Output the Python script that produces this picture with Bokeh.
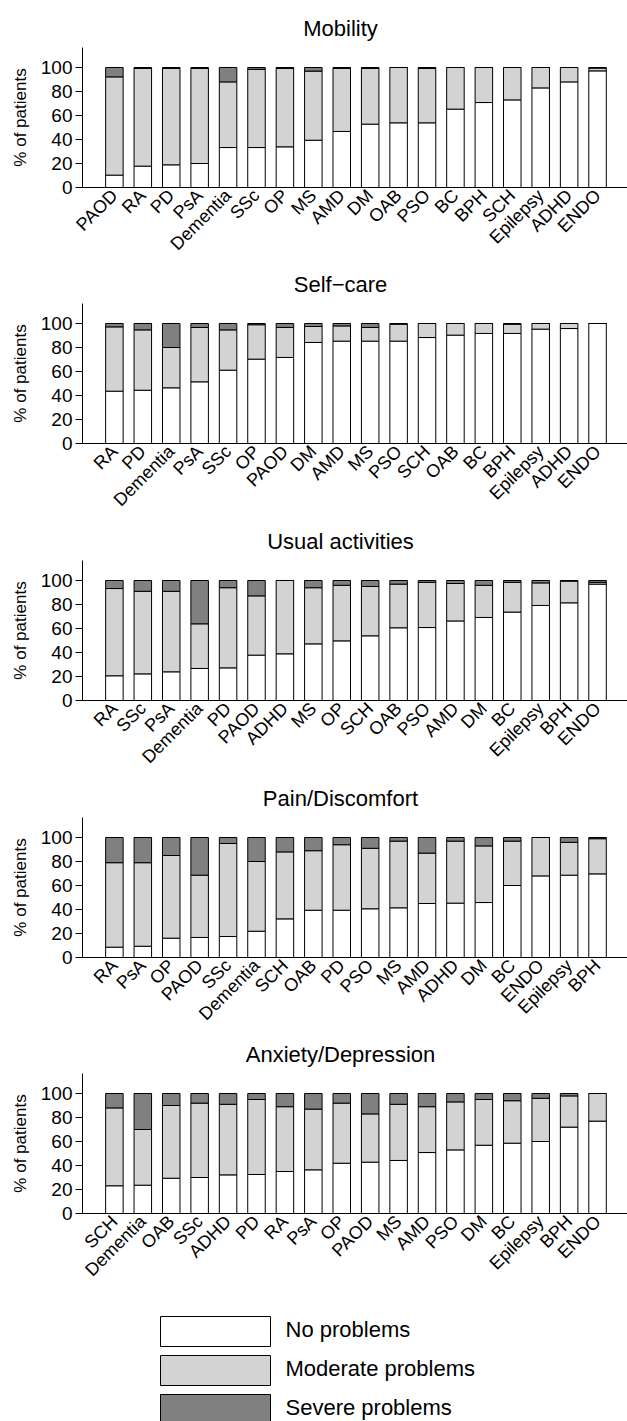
from math import pi
from bokeh.plotting import figure
from bokeh.layouts import column
from bokeh.models import Range1d, ColumnDataSource, FixedTicker
from bokeh.embed import file_html
from bokeh.resources import INLINE
from bokeh.core.properties import value

FONT = "Liberation Sans"
MOD_COLOR = "#d2d3d2"
SEV_COLOR = "#808080"

# ---------------- data (percent of patients) ----------------
mobility_cats = ["PAOD", "RA", "PD", "PsA", "Dementia", "SSc", "OP", "MS", "AMD", "DM",
                 "OAB", "PSO", "BC", "BPH", "SCH", "Epilepsy", "ADHD", "ENDO"]
mobility_none = [10.3, 17.8, 18.9, 20.0, 33.3, 33.3, 33.9, 39.4, 46.7, 52.8,
                 53.9, 53.9, 65.3, 70.8, 73.0, 83.0, 88.0, 97.2]
mobility_moderate = [81.9, 81.4, 80.3, 79.2, 54.7, 65.2, 65.3, 57.6, 52.5, 46.4,
                     46.1, 45.3, 34.7, 29.2, 27.0, 17.0, 12.0, 2.3]
mobility_severe = [7.8, 0.8, 0.8, 0.8, 12.0, 1.5, 0.8, 3.0, 0.8, 0.8,
                   0.0, 0.8, 0.0, 0.0, 0.0, 0.0, 0.0, 0.5]

selfcare_cats = ["RA", "PD", "Dementia", "PsA", "SSc", "OP", "PAOD", "DM", "AMD", "MS",
                 "PSO", "SCH", "OAB", "BC", "BPH", "Epilepsy", "ADHD", "ENDO"]
selfcare_none = [43.6, 44.4, 46.4, 51.4, 61.1, 70.3, 71.7, 84.2, 85.3, 85.3,
                 85.3, 88.3, 90.3, 91.7, 91.7, 95.3, 95.8, 100.0]
selfcare_moderate = [53.6, 50.3, 33.6, 45.3, 33.6, 28.7, 25.0, 13.3, 12.7, 11.4,
                     14.1, 11.7, 9.7, 8.3, 7.7, 4.7, 4.2, 0.0]
selfcare_severe = [2.8, 5.3, 20.0, 3.3, 5.3, 1.0, 3.3, 2.5, 2.0, 3.3,
                   0.6, 0.0, 0.0, 0.0, 0.6, 0.0, 0.0, 0.0]

usual_cats = ["RA", "SSc", "PsA", "Dementia", "PD", "PAOD", "ADHD", "MS", "OP", "SCH",
              "OAB", "PSO", "AMD", "DM", "BC", "Epilepsy", "BPH", "ENDO"]
usual_none = [20.6, 22.2, 23.9, 26.7, 27.2, 37.8, 38.9, 47.2, 49.7, 53.9,
              60.6, 60.8, 66.3, 69.2, 73.7, 79.2, 81.4, 97.0]
usual_moderate = [72.7, 68.8, 67.1, 37.2, 66.8, 49.4, 61.1, 46.8, 46.3, 41.1,
                  36.4, 37.7, 31.2, 26.8, 24.8, 18.8, 18.1, 1.5]
usual_severe = [6.7, 9.0, 9.0, 36.1, 6.0, 12.8, 0.0, 6.0, 4.0, 5.0,
                3.0, 1.5, 2.5, 4.0, 1.5, 2.0, 0.5, 1.5]

pain_cats = ["RA", "PsA", "OP", "PAOD", "SSc", "Dementia", "SCH", "OAB", "PD", "PSO",
             "MS", "AMD", "ADHD", "DM", "BC", "ENDO", "Epilepsy", "BPH"]
pain_none = [8.6, 9.4, 16.1, 16.7, 17.5, 21.9, 32.2, 39.4, 39.4, 40.6,
             41.4, 45.0, 45.3, 45.8, 60.0, 68.0, 68.6, 69.7]
pain_moderate = [70.4, 69.6, 68.9, 51.9, 77.5, 58.1, 55.8, 49.6, 54.6, 50.4,
                 55.6, 42.0, 51.7, 47.2, 37.0, 32.0, 27.4, 29.3]
pain_severe = [21.0, 21.0, 15.0, 31.4, 5.0, 20.0, 12.0, 11.0, 6.0, 9.0,
               3.0, 13.0, 3.0, 7.0, 3.0, 0.0, 4.0, 1.0]

anx_cats = ["SCH", "Dementia", "OAB", "SSc", "ADHD", "PD", "RA", "PsA", "OP", "PAOD",
            "MS", "AMD", "PSO", "DM", "BC", "Epilepsy", "BPH", "ENDO"]
anx_none = [23.1, 23.6, 29.4, 30.0, 32.2, 32.5, 35.0, 36.4, 41.9, 42.8,
            44.2, 50.8, 53.0, 56.9, 58.6, 60.0, 72.0, 77.0]
anx_moderate = [64.9, 46.4, 60.6, 62.0, 58.8, 62.5, 54.0, 50.6, 50.1, 40.2,
                46.8, 38.2, 40.0, 38.1, 35.4, 36.0, 26.0, 23.0]
anx_severe = [12.0, 30.0, 10.0, 8.0, 9.0, 5.0, 11.0, 13.0, 8.0, 17.0,
              9.0, 11.0, 7.0, 5.0, 6.0, 4.0, 2.0, 0.0]

panel_titles = ["Mobility", "Self\u2212care", "Usual activities", "Pain/Discomfort", "Anxiety/Depression"]
y_ticks = [0, 20, 40, 60, 80, 100]
legend_labels = ["No problems", "Moderate problems", "Severe problems"]

panels = [
    (mobility_cats, mobility_none, mobility_moderate, mobility_severe),
    (selfcare_cats, selfcare_none, selfcare_moderate, selfcare_severe),
    (usual_cats, usual_none, usual_moderate, usual_severe),
    (pain_cats, pain_none, pain_moderate, pain_severe),
    (anx_cats, anx_none, anx_moderate, anx_severe),
]

# ---------------- layout (page pixels) ----------------
W = 627
LEFT = 82
FRAME_H = 140
BOTTOM = 80
Y_MAX = 116.67
X_START, X_END = -1.122, 18.054
frame_tops = [47, 303, 560, 817, 1073]
TITLE_X = 340
TITLE_ABOVE = 18.7


def bare_figure(top, height):
    """A figure whose data coordinates equal page pixels (frame aligned with panels)."""
    f = figure(width=W, height=height, output_backend="svg", toolbar_location=None,
               title=None, x_range=Range1d(LEFT, W), y_range=Range1d(top + height, top),
               x_axis_type=None, y_axis_type=None,
               min_border_left=LEFT, min_border_right=0, min_border_top=0, min_border_bottom=0)
    f.grid.grid_line_color = None
    f.outline_line_color = None
    return f


def make_title(text, top, height, frame_top):
    f = bare_figure(top, height)
    f.text(x=[TITLE_X], y=[frame_top - TITLE_ABOVE], text=[text], text_align="center",
           text_baseline="middle", text_font=value(FONT), text_font_size="22px",
           text_color="black")
    return f


def make_panel(cats, none, moderate, severe):
    xs = list(range(len(cats)))
    src = ColumnDataSource(dict(x=xs, none=none, moderate=moderate, severe=severe))
    p = figure(width=W, height=FRAME_H + BOTTOM, output_backend="svg", toolbar_location=None,
               title=None, x_range=Range1d(X_START, X_END), y_range=Range1d(0, Y_MAX),
               min_border_left=LEFT, min_border_right=0, min_border_top=0,
               min_border_bottom=BOTTOM)
    p.vbar_stack(["none", "moderate", "severe"], x="x", width=0.616, source=src,
                 fill_color=["white", MOD_COLOR, SEV_COLOR],
                 line_color="black", line_width=1)
    p.grid.grid_line_color = None
    p.outline_line_color = None

    ya = p.yaxis[0]
    ya.ticker = FixedTicker(ticks=y_ticks)
    ya.axis_label = "% of patients"
    ya.axis_label_text_font = FONT
    ya.axis_label_text_font_size = "17px"
    ya.axis_label_text_font_style = "normal"
    ya.axis_label_text_color = "black"
    ya.axis_label_standoff = 8
    ya.major_label_text_font = FONT
    ya.major_label_text_font_size = "19px"
    ya.major_label_text_color = "black"
    ya.major_label_standoff = 3
    ya.major_tick_out = 7
    ya.major_tick_in = 0
    ya.minor_tick_line_color = None
    ya.axis_line_color = "black"
    ya.major_tick_line_color = "black"

    xa = p.xaxis[0]
    xa.ticker = FixedTicker(ticks=xs)
    xa.major_label_overrides = {i: c for i, c in zip(xs, cats)}
    xa.major_label_orientation = pi / 4
    xa.major_label_text_font = FONT
    xa.major_label_text_font_size = "18px"
    xa.major_label_text_color = "black"
    xa.major_label_standoff = 5
    xa.major_tick_out = 0
    xa.major_tick_in = 0
    xa.major_tick_line_color = None
    xa.minor_tick_line_color = None
    xa.axis_line_color = "black"
    return p


children = []
cursor = 0
for t, (cats, n, m, s), ft in zip(panel_titles, panels, frame_tops):
    children.append(make_title(t, cursor, ft - cursor, ft))
    children.append(make_panel(cats, n, m, s))
    cursor = ft + FRAME_H + BOTTOM

# legend
lg = bare_figure(cursor, 1421 - cursor)
leg_y = [1331 + 39 * i for i in range(len(legend_labels))]
txt_y = [v - 2 for v in leg_y]
lsrc = ColumnDataSource(dict(y=leg_y, ty=txt_y, label=legend_labels,
                             color=["white", MOD_COLOR, SEV_COLOR]))
lg.rect(x=215, y="y", width=110, height=30, source=lsrc, fill_color="color",
        line_color="black", line_width=1)
lg.text(x=285, y="ty", text="label", source=lsrc, text_baseline="middle",
        text_font=value(FONT), text_font_size="22px", text_color="black")
children.append(lg)

layout = column(*children, spacing=0)
open("out.html", "w").write(file_html(layout, INLINE))
